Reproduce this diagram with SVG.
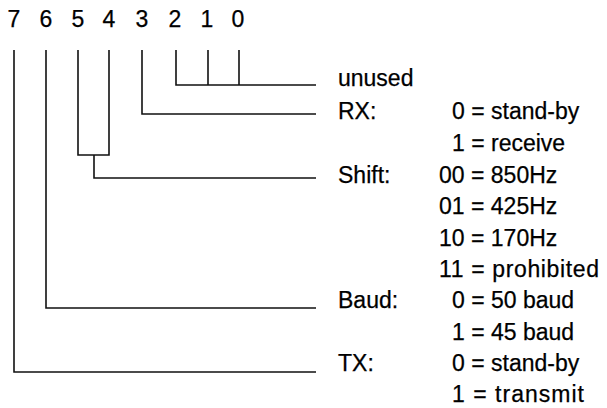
<svg xmlns="http://www.w3.org/2000/svg" width="607" height="408" viewBox="0 0 607 408">
<style>
text{font-family:"Liberation Sans",Arial,sans-serif;font-size:23px;fill:#000;stroke:#000;stroke-width:0.25}
.bit{text-anchor:middle}
.c path{fill:none;stroke:#111;stroke-width:1.6}
</style>
<rect width="607" height="408" fill="#fff"/>
<g id="bits">
<text class="bit" x="14" y="27">7</text>
<text class="bit" x="46" y="27">6</text>
<text class="bit" x="78" y="27">5</text>
<text class="bit" x="109" y="27">4</text>
<text class="bit" x="142" y="27">3</text>
<text class="bit" x="175" y="27">2</text>
<text class="bit" x="207" y="27">1</text>
<text class="bit" x="238" y="27">0</text>
</g>
<g class="c" id="connectors">
<path d="M14,50 V372 H316"/>
<path d="M46,50 V308 H316"/>
<path d="M78,50 V155 H109 V50 M94,155 V178 H316"/>
<path d="M142,50 V114 H316"/>
<path d="M176,50 V85 H316 M208,50 V85 M239,50 V85"/>
</g>
<g id="unused"><text x="338" y="86">unused</text></g>
<g id="rx">
<text x="338" y="119">RX:</text>
<text x="452" y="119">0 = stand-by</text>
<text x="452" y="151">1 = receive</text>
</g>
<g id="shift">
<text x="338" y="183">Shift:</text>
<text x="439" y="183">00 = 850Hz</text>
<text x="439" y="214.3">01 = 425Hz</text>
<text x="439" y="245.6">10 = 170Hz</text>
<text x="439" y="277" textLength="160">11 = prohibited</text>
</g>
<g id="baud">
<text x="338" y="308.3">Baud:</text>
<text x="452" y="308.3">0 = 50 baud</text>
<text x="452" y="339.6">1 = 45 baud</text>
</g>
<g id="tx">
<text x="338" y="370.8">TX:</text>
<text x="452" y="370.8">0 = stand-by</text>
<text x="452" y="402" textLength="132">1 = transmit</text>
</g>
</svg>
